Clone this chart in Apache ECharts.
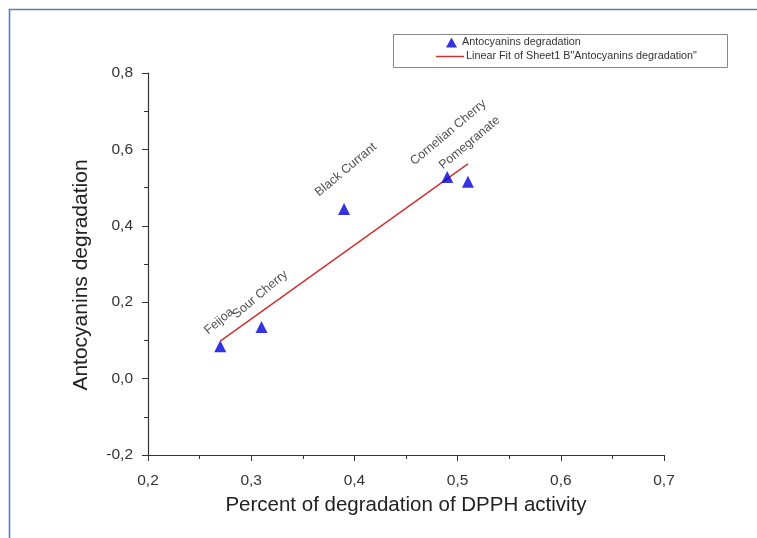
<!DOCTYPE html>
<html><head><meta charset="utf-8">
<script src="https://cdn.jsdelivr.net/npm/echarts@6/dist/echarts.min.js"></script>
<style>html,body{margin:0;padding:0;background:#fff}#c{width:757px;height:538px}</style>
</head><body><div id="c"></div>
<script>
const fruits = ['Feijoa', 'Sour Cherry', 'Black Currant', 'Cornelian Cherry', 'Pomegranate'];
const dpphValues = [0.27, 0.31, 0.39, 0.49, 0.51];
const antocyaninValues = [0.085, 0.135, 0.444, 0.528, 0.515];
const fitX = [0.27, 0.51];
const fitY = [0.098, 0.562];
const xTicks = [0.2, 0.7, 0.1];
const yTicks = [-0.2, 0.8, 0.2];
const seriesNames = ['Antocyanins degradation', 'Linear Fit of Sheet1 B"Antocyanins degradation"'];

const labelShift = { 'Feijoa': [-10, -9], 'Sour Cherry': [-23, -6], 'Black Currant': [-23, -10], 'Cornelian Cherry': [-31, -9], 'Pomegranate': [-23, -10] };
const SYM = 12;
const fmt = v => v.toFixed(1).replace('.', ',');
const FONT = 'Liberation Sans, Arial, sans-serif';

const chart = echarts.init(document.getElementById('c'), null, { renderer: 'canvas' });
chart.setOption({
  animation: false,
  backgroundColor: '#fff',
  textStyle: { fontFamily: FONT },
  grid: { left: 148, right: 93, top: 73, bottom: 83, containLabel: false },
  xAxis: {
    type: 'value', min: xTicks[0], max: xTicks[1], interval: xTicks[2],
    name: 'Percent of degradation of DPPH activity', nameLocation: 'middle', nameGap: 40,
    nameTextStyle: { fontSize: 20.5, color: '#222', fontFamily: FONT },
    axisLine: { onZero: false, lineStyle: { color: '#333', width: 1.2 } },
    axisTick: { show: true, inside: false, length: 6, lineStyle: { color: '#333' } },
    minorTick: { show: true, splitNumber: 2, length: 4, lineStyle: { color: '#333' } },
    axisLabel: { formatter: fmt, fontSize: 15.5, color: '#333', margin: 18, fontFamily: FONT },
    splitLine: { show: false }
  },
  yAxis: {
    type: 'value', min: yTicks[0], max: yTicks[1], interval: yTicks[2],
    name: 'Antocyanins degradation', nameLocation: 'middle', nameGap: 56,
    nameTextStyle: { fontSize: 21, color: '#222', fontFamily: FONT, padding: [0, 22, 0, 0] },
    axisLine: { show: true, onZero: false, lineStyle: { color: '#333', width: 1.2 } },
    axisTick: { show: true, inside: false, length: 6, lineStyle: { color: '#333' } },
    minorTick: { show: true, splitNumber: 2, length: 4, lineStyle: { color: '#333' } },
    axisLabel: { formatter: fmt, fontSize: 15.5, color: '#333', margin: 15, fontFamily: FONT },
    splitLine: { show: false }
  },
  legend: [
    {
      data: [{ name: seriesNames[0], icon: 'triangle' }],
      left: 446, top: 37, itemWidth: 11, itemHeight: 10, itemGap: 4, padding: 0,
      textStyle: { fontSize: 10.8, color: '#333', fontFamily: FONT }
    },
    {
      data: [{ name: seriesNames[1], icon: 'rect' }],
      left: 436, top: 51, itemWidth: 28, itemHeight: 1.5, padding: 0,
      textStyle: { fontSize: 10.8, color: '#333', fontFamily: FONT, padding: [0, 0, 0, -3] }
    }
  ],
  graphic: [
    { type: 'rect', shape: { x: 393.5, y: 34.5, width: 334, height: 33 }, style: { fill: 'none', stroke: '#888', lineWidth: 1 }, z: -1 },
    { type: 'polyline', shape: { points: [[9.5, 538], [9.5, 9.5], [757, 9.5]] }, style: { fill: 'none', stroke: '#4f81bd', lineWidth: 1.6 } }
  ],
  series: [
    {
      name: seriesNames[0], type: 'scatter', symbol: 'triangle', symbolSize: SYM,
      itemStyle: { color: '#0000dd' }, z: 3,
      data: fruits.map((f, i) => ({
        name: f, value: [dpphValues[i], antocyaninValues[i]],
        label: { position: [SYM / 2 + labelShift[f][0], SYM / 2 + labelShift[f][1]] }
      })),
      label: {
        show: true, formatter: p => p.name, rotate: 40, align: 'left', verticalAlign: 'bottom',
        fontSize: 12.5, color: '#222', fontFamily: FONT
      }
    },
    {
      name: seriesNames[1], type: 'line', showSymbol: false, symbol: 'none',
      lineStyle: { color: '#cc3333', width: 1.5 }, itemStyle: { color: '#cc3333' },
      data: fitX.map((x, i) => [x, fitY[i]]), z: 2
    }
  ]
});
</script></body></html>
